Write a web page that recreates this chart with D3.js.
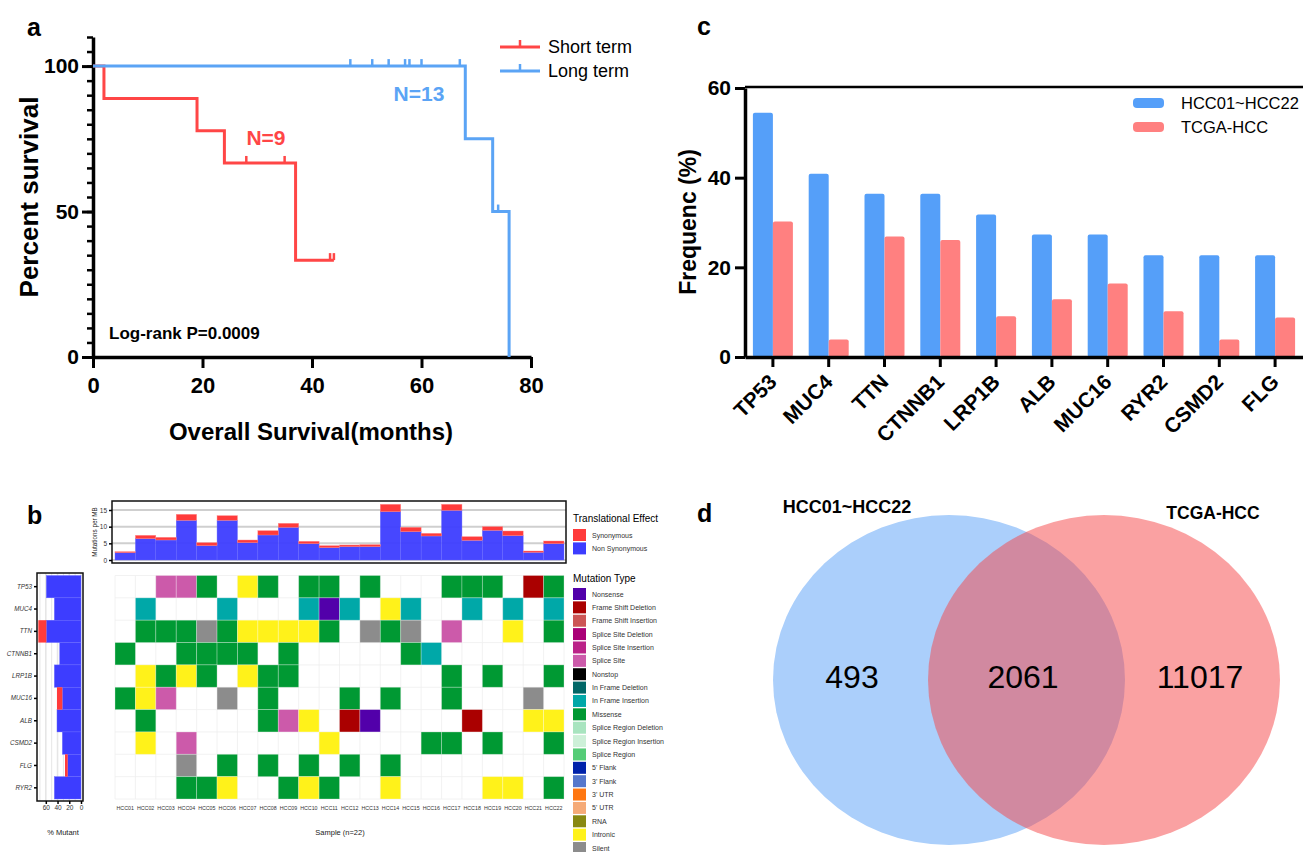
<!DOCTYPE html>
<html>
<head>
<meta charset="utf-8">
<script src="https://cdn.jsdelivr.net/npm/d3@7"></script>
<style>
  body { margin: 0; background: #fff; }
  svg { font-family: Arial, "Liberation Sans", sans-serif; }
</style>
</head>
<body>
<svg id="fig" width="1303" height="852"></svg>
<script>
// ---------- data ----------
// panel a: Kaplan-Meier steps [month, percent] and censor marks
const shortSteps = [[0, 100], [2, 88.9], [19, 77.8], [24, 66.7], [37, 33.3], [44, 33.3]];
const shortCensor = [[28, 66.7], [35, 66.7], [43.3, 33.3], [44, 33.3]];
const longSteps = [[0, 100], [68, 75], [73, 50], [76, 0], [76, 0]];
const longCensor = [[47, 100], [51, 100], [54, 100], [57, 100], [57.8, 100], [60, 100], [67, 100], [74, 50]];
const survTicksX = [0, 20, 40, 60, 80];
const survTicksY = [0, 50, 100];

// panel c: mutation frequency (%)
const genesC = ['TP53', 'MUC4', 'TTN', 'CTNNB1', 'LRP1B', 'ALB', 'MUC16', 'RYR2', 'CSMD2', 'FLG'];
const freqHCC = [54.5, 40.9, 36.4, 36.4, 31.8, 27.3, 27.3, 22.7, 22.7, 22.7];
const freqTCGA = [30.2, 3.9, 26.9, 26.1, 9.1, 12.9, 16.4, 10.2, 3.9, 8.8];
const freqTicks = [0, 20, 40, 60];

// panel b: oncoplot
const samples = ['HCC01', 'HCC02', 'HCC03', 'HCC04', 'HCC05', 'HCC06', 'HCC07', 'HCC08', 'HCC09', 'HCC10', 'HCC11',
  'HCC12', 'HCC13', 'HCC14', 'HCC15', 'HCC16', 'HCC17', 'HCC18', 'HCC19', 'HCC20', 'HCC21', 'HCC22'];
const tmbNonSyn = [2.2, 6.4, 6.0, 11.9, 4.3, 11.9, 5.2, 7.5, 9.8, 4.9, 3.7, 4.0, 4.0, 14.5, 8.5, 7.2, 14.9, 5.9, 8.9, 7.3, 2.3, 4.9];
const tmbSyn = [0.3, 1.0, 0.8, 1.8, 0.9, 1.4, 0.8, 1.3, 1.2, 0.7, 0.6, 0.5, 0.6, 2.2, 1.3, 0.8, 1.8, 1.1, 1.1, 1.4, 0.4, 0.8];
const tmbTicks = [0, 5, 10, 15];
const oncoGenes = ['TP53', 'MUC4', 'TTN', 'CTNNB1', 'LRP1B', 'MUC16', 'ALB', 'CSMD2', 'FLG', 'RYR2'];
// one letter per sample: . none, M missense, I intronic, S splice site, F in frame insertion,
// N nonsense, D frame shift deletion, X silent
const oncoRows = [
  '..SSM.IM.MM.M...MMM.DM',
  '.F...F...FNF.IF..F.F.F',
  '.MMMXMIIIIM.XMX.S..I.M',
  'M..MMMM.M.....MF......',
  '.IMIM.IMM.......M.M..M',
  'MIS..X.M...M.M..M...X.',
  '.M.....MSI.DN....D..II',
  '.I.S......I....MM.M..M',
  '...X.M.M.M.M.M........',
  '...MMI..MIM..I....II.M'
];
const mutPct = [0, 20, 40, 60];
const effectNames = ['Synonymous', 'Non Synonymous'];
const effectColors = ['#ff3b3b', '#3d3dff'];
const typeNames = ['Nonsense', 'Frame Shift Deletion', 'Frame Shift Insertion', 'Splice Site Deletion',
  'Splice Site Insertion', 'Splice Site', 'Nonstop', 'In Frame Deletion', 'In Frame Insertion', 'Missense',
  'Splice Region Deletion', 'Splice Region Insertion', 'Splice Region', "5' Flank", "3' Flank", "3' UTR",
  "5' UTR", 'RNA', 'Intronic', 'Silent'];
const typeColors = ['#5200aa', '#aa0000', '#cc5555', '#aa0077', '#bb2288', '#cc5aaa', '#000000', '#006666',
  '#00a8a8', '#009933', '#a8e4bf', '#cdf0d8', '#55cc77', '#0022aa', '#5577cc', '#ff7711', '#f5aa77',
  '#888811', '#fff21a', '#8c8c8c'];
const codeType = { M: 'Missense', I: 'Intronic', S: 'Splice Site', F: 'In Frame Insertion', N: 'Nonsense', D: 'Frame Shift Deletion', X: 'Silent' };

// panel d: venn counts
const vennSets = ['HCC01~HCC22', 'TCGA-HCC'];
const vennCounts = [493, 2061, 11017];

// ---------- drawing ----------
const svg = d3.select('#fig');

[['a', 27, 36], ['b', 27, 524], ['c', 697, 35], ['d', 697, 522]].forEach(([t, x, y]) => {
  svg.append('text').attr('x', x).attr('y', y).text(t)
    .style('font-size', '25px').style('font-weight', 'bold');
});

// ===== panel a =====
const red = '#ff4646', blue = '#5ba4f5';
const xA = d3.scaleLinear([0, 80], [93, 531]);
const yA = d3.scaleLinear([0, 110], [357, 37]);
const gA = svg.append('g');

// minor y ticks every 5
gA.append('g').attr('transform', 'translate(93,0)')
  .call(d3.axisLeft(yA).tickValues(d3.range(0, 111, 5)).tickSize(6).tickSizeOuter(0).tickFormat(''))
  .call(g => g.selectAll('line').attr('stroke-width', 2.5))
  .call(g => g.select('.domain').attr('stroke-width', 3.5));
gA.append('g').attr('transform', 'translate(93,0)')
  .call(d3.axisLeft(yA).tickValues(survTicksY).tickSize(11).tickSizeOuter(0).tickPadding(3))
  .call(g => g.selectAll('line').attr('stroke-width', 3))
  .call(g => g.select('.domain').remove())
  .call(g => g.selectAll('text').style('font-size', '21px').style('font-weight', 'bold').attr('fill', '#000'));
gA.append('g').attr('transform', 'translate(0,357)')
  .call(d3.axisBottom(xA).tickValues(survTicksX).tickSize(11).tickSizeOuter(0).tickPadding(9))
  .call(g => g.selectAll('line').attr('stroke-width', 3))
  .call(g => g.select('.domain').attr('stroke-width', 3.5))
  .call(g => g.selectAll('text').style('font-size', '22px').style('font-weight', 'bold').attr('fill', '#000'));

gA.append('text').attr('transform', 'translate(38,197) rotate(-90)').attr('text-anchor', 'middle')
  .text('Percent survival').style('font-size', '26px').style('font-weight', 'bold');
gA.append('text').attr('x', 311).attr('y', 440).attr('text-anchor', 'middle')
  .text('Overall Survival(months)').style('font-size', '24px').style('font-weight', 'bold');

const stepLine = d3.line().x(d => xA(d[0])).y(d => yA(d[1])).curve(d3.curveStepAfter);
[[shortSteps, shortCensor, red], [longSteps, longCensor, blue]].forEach(([steps, cens, col]) => {
  gA.append('path').attr('d', stepLine(steps)).attr('fill', 'none')
    .attr('stroke', col).attr('stroke-width', 3);
  gA.selectAll(null).data(cens).join('line')
    .attr('x1', d => xA(d[0])).attr('x2', d => xA(d[0]))
    .attr('y1', d => yA(d[1])).attr('y2', d => yA(d[1]) - 7)
    .attr('stroke', col).attr('stroke-width', 2.5);
});

// legend a
[['Short term', red, 47], ['Long term', blue, 71]].forEach(([t, col, y]) => {
  gA.append('line').attr('x1', 500).attr('x2', 540).attr('y1', y).attr('y2', y)
    .attr('stroke', col).attr('stroke-width', 3);
  gA.append('line').attr('x1', 520).attr('x2', 520).attr('y1', y).attr('y2', y - 7)
    .attr('stroke', col).attr('stroke-width', 2.5);
  gA.append('text').attr('x', 548).attr('y', y + 6).text(t).style('font-size', '18px');
});
gA.append('text').attr('x', 266).attr('y', 145).attr('text-anchor', 'middle').text('N=9')
  .style('font-size', '21px').style('font-weight', 'bold').attr('fill', red);
gA.append('text').attr('x', 419).attr('y', 101).attr('text-anchor', 'middle').text('N=13')
  .style('font-size', '21px').style('font-weight', 'bold').attr('fill', blue);
gA.append('text').attr('x', 109).attr('y', 339).text('Log-rank P=0.0009')
  .style('font-size', '17px').style('font-weight', 'bold');

// ===== panel c =====
const cBlue = '#559ff9', cRed = '#ff8080';
const xC = d3.scaleBand(genesC, [745, 1303]);
const yC = d3.scaleLinear([0, 60], [357, 88]);
const gC = svg.append('g');
const bw = 20;

gC.selectAll('rect.hcc').data(genesC).join('rect').attr('class', 'hcc')
  .attr('x', d => xC(d) + xC.bandwidth() / 2 - bw).attr('width', bw)
  .attr('y', (d, i) => yC(freqHCC[i])).attr('height', (d, i) => yC(0) - yC(freqHCC[i]))
  .attr('rx', 2).attr('fill', cBlue);
gC.selectAll('rect.tcga').data(genesC).join('rect').attr('class', 'tcga')
  .attr('x', d => xC(d) + xC.bandwidth() / 2).attr('width', bw)
  .attr('y', (d, i) => yC(freqTCGA[i])).attr('height', (d, i) => yC(0) - yC(freqTCGA[i]))
  .attr('rx', 2).attr('fill', cRed);

gC.append('g').attr('transform', 'translate(745,0)')
  .call(d3.axisLeft(yC).tickValues(freqTicks).tickSize(10).tickSizeOuter(0).tickPadding(4))
  .call(g => g.selectAll('line').attr('stroke-width', 3))
  .call(g => g.select('.domain').attr('stroke-width', 3.5))
  .call(g => g.selectAll('text').style('font-size', '21px').style('font-weight', 'bold').attr('fill', '#000'));
gC.append('g').attr('transform', 'translate(0,357)')
  .call(d3.axisBottom(xC).tickSize(10).tickSizeOuter(0))
  .call(g => g.selectAll('line').attr('stroke-width', 3))
  .call(g => g.select('.domain').attr('stroke-width', 3.5))
  .call(g => g.selectAll('text').style('font-size', '21px').style('font-weight', 'bold').attr('fill', '#000')
    .attr('text-anchor', 'end').attr('y', 0).attr('dy', '0.35em').attr('transform', 'translate(0,21) rotate(-45)'));
gC.append('line').attr('x1', 745).attr('x2', 1303).attr('y1', 87).attr('y2', 87)
  .attr('stroke', '#000').attr('stroke-width', 2.5);
gC.append('text').attr('transform', 'translate(696,222) rotate(-90)').attr('text-anchor', 'middle')
  .text('Frequenc (%)').style('font-size', '23px').style('font-weight', 'bold');

[[vennSets[0], cBlue, 103], [vennSets[1], cRed, 127]].forEach(([t, col, y]) => {
  gC.append('rect').attr('x', 1133).attr('y', y - 5).attr('width', 31).attr('height', 10).attr('rx', 4).attr('fill', col);
  gC.append('text').attr('x', 1181).attr('y', y + 6).text(t).style('font-size', '16.5px');
});

// ===== panel b =====
const gB = svg.append('g');
const xB = d3.scaleBand(samples, [115, 564]);
const yB = d3.scaleBand(oncoGenes, [575.5, 799]);
const typeColor = d3.scaleOrdinal(typeNames, typeColors);

// top: mutations per MB
const yT = d3.scaleLinear([0, 18], [560, 500]);
gB.append('g').selectAll('line').data(tmbTicks).join('line')
  .attr('x1', 112).attr('x2', 566).attr('y1', d => yT(d)).attr('y2', d => yT(d))
  .attr('stroke', '#cfcfcf').attr('stroke-width', 2);
gB.selectAll('rect.tns').data(samples).join('rect').attr('class', 'tns')
  .attr('x', d => xB(d)).attr('width', xB.bandwidth())
  .attr('y', (d, i) => yT(tmbNonSyn[i])).attr('height', (d, i) => yT(0) - yT(tmbNonSyn[i]))
  .attr('fill', effectColors[1]).attr('fill-opacity', 0.95).attr('stroke', '#6a6aff').attr('stroke-width', 0.4);
gB.selectAll('rect.tsy').data(samples).join('rect').attr('class', 'tsy')
  .attr('x', d => xB(d)).attr('width', xB.bandwidth())
  .attr('y', (d, i) => yT(tmbNonSyn[i] + tmbSyn[i])).attr('height', (d, i) => yT(0) - yT(tmbSyn[i]))
  .attr('fill', effectColors[0]).attr('stroke', '#ff8a8a').attr('stroke-width', 0.4);
gB.append('rect').attr('x', 112).attr('y', 501).attr('width', 454).attr('height', 62)
  .attr('fill', 'none').attr('stroke', '#111').attr('stroke-width', 1.5);
gB.append('g').attr('transform', 'translate(112,0)')
  .call(d3.axisLeft(yT).tickValues(tmbTicks).tickSize(3).tickPadding(2))
  .call(g => g.select('.domain').remove())
  .call(g => g.selectAll('line').attr('stroke-width', 1.5))
  .call(g => g.selectAll('text').style('font-size', '6.5px').attr('fill', '#333'));
gB.append('text').attr('transform', 'translate(97,532) rotate(-90)').attr('text-anchor', 'middle')
  .text('Mutations per MB').style('font-size', '6.3px').attr('fill', '#222');

// grid
const gridG = gB.append('g');
gridG.selectAll('line.v').data(d3.range(samples.length + 1)).join('line').attr('class', 'v')
  .attr('x1', i => 115 + i * xB.step()).attr('x2', i => 115 + i * xB.step())
  .attr('y1', 575.5).attr('y2', 799).attr('stroke', '#efefef').attr('stroke-width', 0.8);
gridG.selectAll('line.h').data(d3.range(oncoGenes.length + 1)).join('line').attr('class', 'h')
  .attr('x1', 115).attr('x2', 564)
  .attr('y1', i => 575.5 + i * yB.step()).attr('y2', i => 575.5 + i * yB.step())
  .attr('stroke', '#efefef').attr('stroke-width', 0.8);

const cells = [];
oncoRows.forEach((row, r) => row.split('').forEach((c, s) => {
  if (c !== '.') cells.push({ gene: oncoGenes[r], sample: samples[s], type: codeType[c] });
}));
gridG.selectAll('rect').data(cells).join('rect')
  .attr('x', d => xB(d.sample)).attr('y', d => yB(d.gene))
  .attr('width', xB.bandwidth()).attr('height', yB.bandwidth())
  .attr('fill', d => typeColor(d.type))
  .attr('stroke', '#fff').attr('stroke-opacity', 0.35).attr('stroke-width', 0.8);

gB.selectAll('text.smp').data(samples).join('text').attr('class', 'smp')
  .attr('x', d => xB(d) + xB.bandwidth() / 2).attr('y', 810).attr('text-anchor', 'middle')
  .text(d => d).style('font-size', '5.3px').attr('fill', '#333');
gB.append('text').attr('x', 340).attr('y', 835).attr('text-anchor', 'middle')
  .text('Sample (n=' + samples.length + ')').style('font-size', '7.5px').attr('fill', '#222');

// left: % mutant per gene
const xL = d3.scaleLinear([0, 75], [81, 37]);
const pct = oncoRows.map(row => {
  const syn = row.split('').filter(c => c === 'X').length;
  const any = row.split('').filter(c => c !== '.').length;
  return { syn: syn / samples.length * 100, non: (any - syn) / samples.length * 100 };
});
gB.selectAll('line.lg').data(d3.range(0, 71, 10)).join('line').attr('class', 'lg')
  .attr('x1', d => xL(d)).attr('x2', d => xL(d)).attr('y1', 573).attr('y2', 801)
  .attr('stroke', '#e6e6e6').attr('stroke-width', d => d % 20 === 0 ? 1.6 : 1);
gB.selectAll('rect.ln').data(oncoGenes).join('rect').attr('class', 'ln')
  .attr('x', (d, i) => xL(pct[i].non)).attr('width', (d, i) => xL(0) - xL(pct[i].non))
  .attr('y', d => yB(d)).attr('height', yB.bandwidth())
  .attr('fill', effectColors[1]).attr('stroke', '#6a6aff').attr('stroke-width', 0.4);
gB.selectAll('rect.ls').data(oncoGenes).join('rect').attr('class', 'ls')
  .attr('x', (d, i) => xL(pct[i].non + pct[i].syn)).attr('width', (d, i) => xL(0) - xL(pct[i].syn))
  .attr('y', d => yB(d)).attr('height', yB.bandwidth())
  .attr('fill', effectColors[0]);
gB.append('rect').attr('x', 37).attr('y', 573).attr('width', 46).attr('height', 228)
  .attr('fill', 'none').attr('stroke', '#111').attr('stroke-width', 1.5);
gB.append('g').attr('transform', 'translate(37,0)')
  .call(d3.axisLeft(yB).tickSize(3).tickPadding(2))
  .call(g => g.select('.domain').remove())
  .call(g => g.selectAll('line').attr('stroke-width', 1.5))
  .call(g => g.selectAll('text').style('font-size', '6.3px').style('font-style', 'italic').attr('fill', '#333'));
gB.append('g').attr('transform', 'translate(0,801)')
  .call(d3.axisBottom(xL).tickValues(mutPct).tickSize(3).tickPadding(1))
  .call(g => g.select('.domain').remove())
  .call(g => g.selectAll('line').attr('stroke-width', 1.5))
  .call(g => g.selectAll('text').style('font-size', '6.5px').attr('fill', '#333'));
gB.append('text').attr('x', 63).attr('y', 835).attr('text-anchor', 'middle')
  .text('% Mutant').style('font-size', '7.5px').attr('fill', '#222');

// legend b
const lgB = gB.append('g');
lgB.append('text').attr('x', 573).attr('y', 522).text('Translational Effect').style('font-size', '10px');
effectNames.forEach((t, i) => {
  lgB.append('rect').attr('x', 573).attr('y', 529 + i * 13.4).attr('width', 13).attr('height', 12).attr('fill', effectColors[i]);
  lgB.append('text').attr('x', 592).attr('y', 537.5 + i * 13.4).text(t).style('font-size', '7px').attr('fill', '#333');
});
lgB.append('text').attr('x', 573).attr('y', 582).text('Mutation Type').style('font-size', '10px');
typeNames.forEach((t, i) => {
  lgB.append('rect').attr('x', 573).attr('y', 588 + i * 13.37).attr('width', 13).attr('height', 12).attr('fill', typeColors[i]);
  lgB.append('text').attr('x', 592).attr('y', 596.5 + i * 13.37).text(t).style('font-size', '7px').attr('fill', '#333');
});

// ===== panel d =====
const gD = svg.append('g');
gD.append('ellipse').attr('cx', 949).attr('cy', 680).attr('rx', 176).attr('ry', 165).attr('fill', '#abcffb');
gD.append('ellipse').attr('cx', 1104).attr('cy', 680).attr('rx', 176).attr('ry', 165)
  .attr('fill', 'rgb(245,70,73)').attr('fill-opacity', 0.51);
[[852, vennCounts[0]], [1023, vennCounts[1]], [1200, vennCounts[2]]].forEach(([x, v]) => {
  gD.append('text').attr('x', x).attr('y', 688).attr('text-anchor', 'middle').text(v).style('font-size', '32px');
});
gD.append('text').attr('x', 847).attr('y', 513).attr('text-anchor', 'middle').text(vennSets[0])
  .style('font-size', '18px').style('font-weight', 'bold');
gD.append('text').attr('x', 1213).attr('y', 519).attr('text-anchor', 'middle').text(vennSets[1])
  .style('font-size', '17.5px').style('font-weight', 'bold');
</script>
</body>
</html>
